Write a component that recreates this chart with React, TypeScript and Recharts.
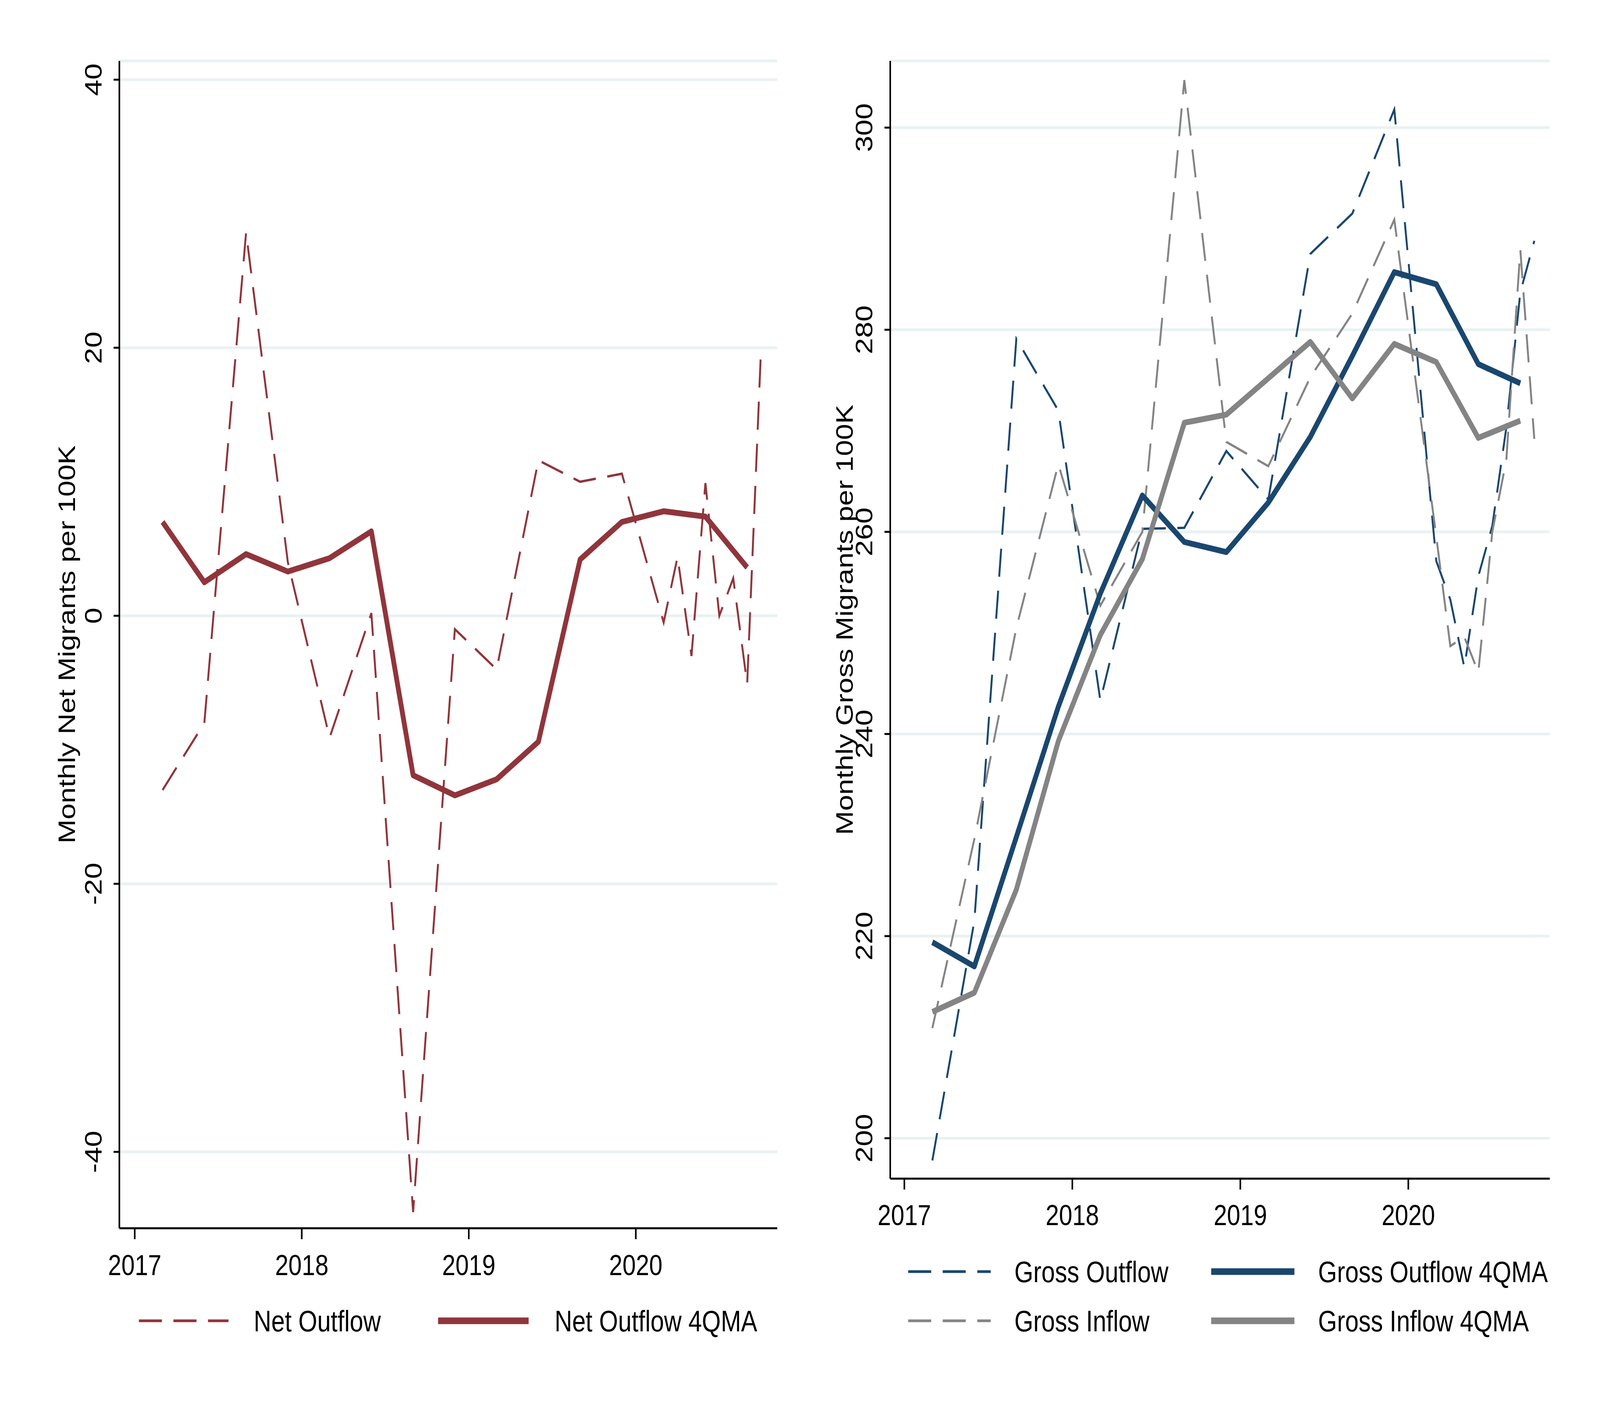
import React from 'react';
import { LineChart, Line, XAxis, YAxis, CartesianGrid } from 'recharts';

// dates are year-month of each observation
const quarterDates = [
  '2017-03', '2017-06', '2017-09', '2017-12',
  '2018-03', '2018-06', '2018-09', '2018-12',
  '2019-03', '2019-06', '2019-09', '2019-12',
];
const monthDates2020 = ['2020-03', '2020-04', '2020-05', '2020-06', '2020-07', '2020-08', '2020-09', '2020-10'];
const maDates2020 = ['2020-03', '2020-06', '2020-09'];

const flowDates = [...quarterDates, ...monthDates2020];
const maDates = [...quarterDates, ...maDates2020];

const netOutflow = [-13, -8, 28.6, 4, -9.1, 0.2, -44.5, -1, -4, 11.6, 10, 10.6, -0.5, 4.4, -3, 9.9, 0, 2.8, -5.1, 20];
const netOutflowMA = [7.0, 2.5, 4.6, 3.3, 4.3, 6.3, -11.9, -13.4, -12.2, -9.4, 4.2, 7.0, 7.8, 7.4, 3.6];

const grossOutflow = [197.8, 221.5, 279.1, 272.0, 243.3, 260.3, 260.4, 268.0, 263.2, 287.5, 291.5, 301.8, 257.1, 253.3, 246.6, 255.6, 260.6, 270.3, 283.7, 288.8];
const grossInflow = [210.9, 229.6, 250.5, 266.7, 252.7, 260.0, 304.7, 268.9, 266.5, 275.3, 281.6, 290.9, 259.5, 248.7, 249.6, 246.1, 260.0, 267.1, 287.9, 269.2];
const grossOutflowMA = [219.4, 217.0, 229.8, 242.7, 253.9, 263.6, 259.0, 258.0, 262.9, 269.4, 277.4, 285.7, 284.5, 276.6, 274.7];
const grossInflowMA = [212.5, 214.4, 224.6, 239.3, 249.8, 257.3, 270.8, 271.6, 275.2, 278.8, 273.2, 278.6, 276.8, 269.3, 271.0];

const yearTicks = [2017, 2018, 2019, 2020];
const netTicks = [-40, -20, 0, 20, 40];
const grossTicks = [200, 220, 240, 260, 280, 300];

const MAROON = '#90353B';
const NAVY = '#1A476F';
const GRAY = '#848484';
const GRID = '#EAF1F3';
const FONT = '"Liberation Sans", Arial, Helvetica, sans-serif';
const DASH = '72 36';
const THIN = 6;
const THICK = 15;

const PAGE_W = 5000;
const PAGE_H = 3636;

const toYear = (d: string) => {
  const [y, m] = d.split('-').map(Number);
  return y + (m - 1) / 12;
};

function buildRows(series: { key: string; dates: string[]; values: number[] }[]) {
  const rows: Record<string, any> = {};
  series.forEach((s) =>
    s.dates.forEach((d, i) => {
      const t = toYear(d);
      const k = t.toFixed(4);
      rows[k] = rows[k] || { t };
      rows[k][s.key] = s.values[i];
    })
  );
  return Object.values(rows).sort((a: any, b: any) => a.t - b.t);
}

const netRows = buildRows([
  { key: 'net', dates: flowDates, values: netOutflow },
  { key: 'netMA', dates: maDates, values: netOutflowMA },
]);

const grossRows = buildRows([
  { key: 'out', dates: flowDates, values: grossOutflow },
  { key: 'in', dates: flowDates, values: grossInflow },
  { key: 'outMA', dates: maDates, values: grossOutflowMA },
  { key: 'inMA', dates: maDates, values: grossInflowMA },
]);

const YTick = ({ x, y, payload }: any) => (
  <text x={x} y={y} transform={`rotate(-90 ${x} ${y})`} textAnchor="middle" fontSize={75} fontFamily={FONT} fill="#000">
    {payload.value}
  </text>
);

const XTick = ({ x, y, payload }: any) => (
  <text x={x} y={y} dy="0.36em" textAnchor="middle" fontSize={75} fontFamily={FONT} fill="#000">
    {payload.value}
  </text>
);

const axisStyle = { stroke: '#000', strokeWidth: 5 };

function LegendItem({ x, y, len, textX, dashed, color, label }: any) {
  return (
    <g>
      <line
        x1={x}
        x2={x + len}
        y1={y}
        y2={y}
        stroke={color}
        strokeWidth={dashed ? 7 : 17}
        strokeDasharray={dashed ? DASH : undefined}
      />
      <text x={textX} y={y} dy="0.36em" fontSize={76} fontFamily={FONT} fill="#000">
        {label}
      </text>
    </g>
  );
}

function App() {
  // the drawing is laid out on a 5000 x 3636 page; stretch it onto the real viewport
  const vw = typeof window !== 'undefined' ? window.innerWidth : PAGE_W;
  const vh = typeof window !== 'undefined' ? window.innerHeight : PAGE_H;
  const sx = Math.min(1, vw / PAGE_W);
  const sy = Math.min(1, vh / PAGE_H);

  return (
    <div style={{ position: 'absolute', left: 0, top: 0, width: PAGE_W * sx, height: PAGE_H * sy, overflow: 'hidden', background: '#fff' }}>
      <div style={{ position: 'absolute', left: 0, top: 0, width: PAGE_W, height: PAGE_H, transform: `scale(${sx}, ${sy})`, transformOrigin: '0 0' }}>
        <div style={{ position: 'absolute', left: 0, top: 0 }}>
          <LineChart width={2500} height={3636} data={netRows} margin={{ top: 156, right: 71, left: 253, bottom: 341 }}>
            <CartesianGrid vertical={false} stroke={GRID} strokeWidth={7} />
            <XAxis
              type="number"
              dataKey="t"
              domain={[2016.908, 2020.847]}
              allowDataOverflow
              ticks={yearTicks}
              height={150}
              tickSize={28}
              tickMargin={65}
              tick={<XTick />}
              axisLine={axisStyle}
              tickLine={axisStyle}
            />
            <YAxis
              domain={[-45.7, 41.4]}
              allowDataOverflow
              ticks={netTicks}
              width={120}
              tickSize={18}
              tickMargin={38}
              tick={<YTick />}
              axisLine={axisStyle}
              tickLine={axisStyle}
            />
            <Line dataKey="net" type="linear" stroke={MAROON} strokeWidth={THIN} strokeDasharray={DASH} dot={false} connectNulls isAnimationActive={false} />
            <Line dataKey="netMA" type="linear" stroke={MAROON} strokeWidth={THICK} strokeLinejoin="round" dot={false} connectNulls isAnimationActive={false} />
          </LineChart>
        </div>
        <div style={{ position: 'absolute', left: 2500, top: 0 }}>
          <LineChart width={2500} height={3636} data={grossRows} margin={{ top: 156, right: 157, left: 162, bottom: 468 }}>
            <CartesianGrid vertical={false} stroke={GRID} strokeWidth={7} />
            <XAxis
              type="number"
              dataKey="t"
              domain={[2016.916, 2020.842]}
              allowDataOverflow
              ticks={yearTicks}
              height={150}
              tickSize={28}
              tickMargin={64}
              tick={<XTick />}
              axisLine={axisStyle}
              tickLine={axisStyle}
            />
            <YAxis
              domain={[196.0, 306.6]}
              allowDataOverflow
              ticks={grossTicks}
              width={120}
              tickSize={18}
              tickMargin={38}
              tick={<YTick />}
              axisLine={axisStyle}
              tickLine={axisStyle}
            />
            <Line dataKey="out" type="linear" stroke={NAVY} strokeWidth={THIN} strokeDasharray={DASH} dot={false} connectNulls isAnimationActive={false} />
            <Line dataKey="in" type="linear" stroke={GRAY} strokeWidth={THIN} strokeDasharray={DASH} dot={false} connectNulls isAnimationActive={false} />
            <Line dataKey="outMA" type="linear" stroke={NAVY} strokeWidth={THICK} strokeLinejoin="round" dot={false} connectNulls isAnimationActive={false} />
            <Line dataKey="inMA" type="linear" stroke={GRAY} strokeWidth={THICK} strokeLinejoin="round" dot={false} connectNulls isAnimationActive={false} />
          </LineChart>
        </div>
        {/* axis titles and legends */}
        <svg width={PAGE_W} height={PAGE_H} style={{ position: 'absolute', left: 0, top: 0, pointerEvents: 'none' }}>
          <text x={208} y={1650} dy="0.36em" transform="rotate(-90 208 1650)" textAnchor="middle" fontSize={74} fontFamily={FONT} fill="#000">
            Monthly Net Migrants per 100K
          </text>
          <text x={2638} y={1587} dy="0.36em" transform="rotate(-90 2638 1587)" textAnchor="middle" fontSize={74} fontFamily={FONT} fill="#000">
            Monthly Gross Migrants per 100K
          </text>
          <LegendItem x={434} len={280} textX={793} y={3382} dashed color={MAROON} label="Net Outflow" />
          <LegendItem x={1369} len={283} textX={1733} y={3382} color={MAROON} label="Net Outflow 4QMA" />
          <LegendItem x={2838} len={258} textX={3170} y={3256} dashed color={NAVY} label="Gross Outflow" />
          <LegendItem x={3785} len={260} textX={4119} y={3256} color={NAVY} label="Gross Outflow 4QMA" />
          <LegendItem x={2838} len={258} textX={3170} y={3382} dashed color={GRAY} label="Gross Inflow" />
          <LegendItem x={3785} len={260} textX={4119} y={3382} color={GRAY} label="Gross Inflow 4QMA" />
        </svg>
      </div>
    </div>
  );
}

export default App;
